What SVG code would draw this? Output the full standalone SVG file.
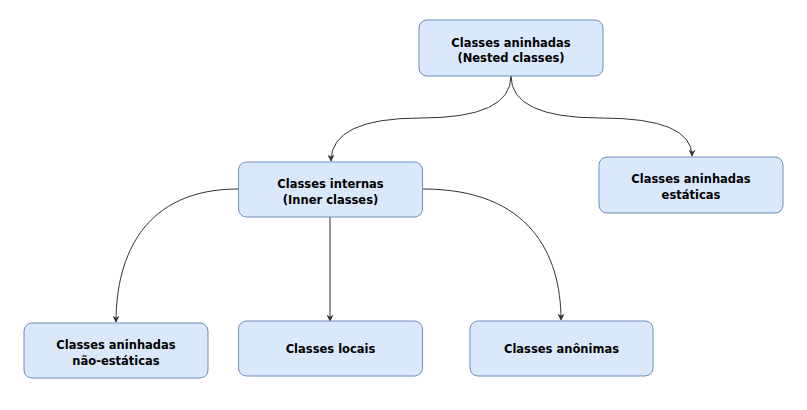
<svg xmlns="http://www.w3.org/2000/svg" width="807" height="410" viewBox="0 0 807 410">
<style>
.n rect{fill:#dae8fc;stroke:#6c8ebf;stroke-width:1}
.n text{font-family:"Comic Sans MS","DejaVu Sans",sans-serif;font-weight:bold;font-size:11.5px;fill:#000;text-anchor:middle}
.e path{fill:none;stroke:#333;stroke-width:1;marker-end:url(#arr)}
</style>
<defs>
<marker id="arr" viewBox="0 0 10 10" refX="9" refY="5" markerWidth="7" markerHeight="7" orient="auto" markerUnits="userSpaceOnUse">
<path d="M0,0 L10,5 L0,10 L3,5 Z" fill="#333" stroke="none"/>
</marker>
</defs>
<rect width="807" height="410" fill="#fff"/>
<g class="e" id="edges">
<path d="M511,76 Q511,118 421,118 Q331,118 331,161"/>
<path d="M511,76 Q511,118 601,118 Q692,118 692,156"/>
<path d="M238,189 C145,189 116,255 116,322"/>
<path d="M423,189 C530,189 561,255 561,320"/>
<path d="M330,217 L330,321"/>
</g>
<g class="n" id="nested"><rect x="419" y="20" width="184" height="56" rx="8"/><text x="511" y="46.5">Classes aninhadas</text><text x="511" y="62">(Nested classes)</text></g>
<g class="n" id="inner"><rect x="238.5" y="162" width="184" height="55" rx="8"/><text x="330.5" y="188">Classes internas</text><text x="330.5" y="203.5">(Inner classes)</text></g>
<g class="n" id="static"><rect x="599" y="157" width="184" height="56" rx="8"/><text x="691" y="183">Classes aninhadas</text><text x="691" y="198.5">estáticas</text></g>
<g class="n" id="nonstatic"><rect x="24" y="323" width="184" height="55" rx="8"/><text x="116" y="349">Classes aninhadas</text><text x="116" y="364.5">não-estáticas</text></g>
<g class="n" id="local"><rect x="238.5" y="321" width="184" height="55" rx="8"/><text x="330.5" y="353">Classes locais</text></g>
<g class="n" id="anon"><rect x="470" y="321" width="183" height="55" rx="8"/><text x="561.5" y="353">Classes anônimas</text></g>
</svg>
